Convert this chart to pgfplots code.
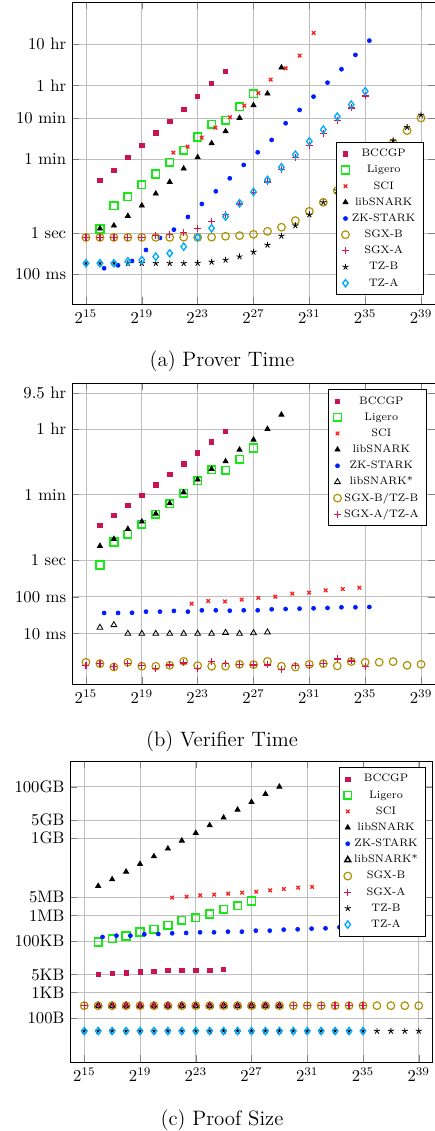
\documentclass[border=0pt]{standalone}
\usepackage{pgfplots}
\pgfplotsset{compat=1.18}

\definecolor{cBCCGP}{RGB}{200,20,80}
\definecolor{cLigero}{RGB}{20,235,20}
\definecolor{cSCI}{RGB}{255,25,25}
\definecolor{cZK}{RGB}{0,30,255}
\definecolor{cSGXB}{RGB}{175,145,0}
\definecolor{cSGXA}{RGB}{215,20,80}
\definecolor{cTZA}{RGB}{0,170,255}

\pgfplotsset{
  only mark legend/.style={legend image code/.code={%
    \draw[mark repeat=2,mark phase=2,##1] plot coordinates {(0pt,0pt)(4pt,0pt)(8pt,0pt)};}},
  bench/.style={
    scale only axis, width=217.8pt, height=181.2pt,
    xmin=14, xmax=40,
    xtick={15,19,...,39},
    xticklabel={$2^{\pgfmathprintnumber{\tick}}$},
    grid=major, yminorticks=false,
    tick style={black!50},
    legend cell align=center,
    legend style={font=\fontsize{6.5}{7.5}\selectfont, draw=black,
      row sep=0pt, nodes={inner sep=1.6pt, text height=5pt, text depth=1.5pt}},
  },
  bccgp/.style={only marks, mark=square*, mark size=1.3pt, color=cBCCGP, mark options={draw=cBCCGP, fill=cBCCGP}},
  ligero/.style={only marks, mark=square, mark size=2.3pt, color=cLigero, mark options={draw=cLigero, line width=0.95pt}},
  sci/.style={only marks, mark=x, mark size=1.5pt, color=cSCI, mark options={draw=cSCI, line width=0.75pt}},
  libsnark/.style={only marks, mark=triangle*, mark size=1.8pt, color=black},
  zk/.style={only marks, mark=*, mark size=1.2pt, color=cZK, mark options={draw=cZK, fill=cZK}},
  snarkstar/.style={only marks, mark=triangle, mark size=2pt, color=black, mark options={line width=0.5pt}},
  sgxb/.style={only marks, mark=o, mark size=2.3pt, color=cSGXB, mark options={draw=cSGXB, line width=0.7pt}},
  sgxa/.style={only marks, mark=+, mark size=2.1pt, color=cSGXA, mark options={draw=cSGXA, line width=0.75pt}},
  tzb/.style={only marks, mark=star, mark size=1.9pt, color=black, mark options={line width=0.5pt}},
  tza/.style={only marks, mark=diamond, mark size=2.2pt, color=cTZA, mark options={draw=cTZA, line width=0.8pt}},
}

\begin{document}
\begin{tikzpicture}
\useasboundingbox (0,0) rectangle (260.4pt,-678.6pt);

% (a) prover time, seconds
\begin{axis}[ymode=log, bench, at={(43.2pt,-1.2pt)}, anchor=north west,
  ymin=0.0192, ymax=377000,
  ytick={0.1,1,60,600,3600,36000},
  yticklabels={100 ms,1 sec,1 min,10 min,1 hr,10 hr},
  legend style={at={(0.968,0.03)}, anchor=south east}]
\addplot[bccgp] coordinates {(16,18.6) (17,32) (18,67) (19,128) (20,260) (21,497) (22,980) (23,1990) (24,4100) (25,8000)};
\addlegendentry{BCCGP}
\addplot[ligero] coordinates {(16,1.24) (17,4.5) (18,7.5) (19,14.7) (20,26.5) (21,50.7) (22,98.8) (23,207) (24,420) (25,525) (26,1120) (27,2310)};
\addlegendentry{Ligero}
\addplot[sci] coordinates {(21.26,86.9) (22.28,121) (23.29,200) (24.27,349) (25.32,620) (26.34,1186) (27.35,2400) (28.23,5030) (29.3,9460) (30.3,19140) (31.31,67500)};
\addlegendentry{SCI}
\addplot[libsnark] coordinates {(16,1.27) (17,1.5) (18,2.56) (19,4.56) (20,8.88) (21,17) (22,35.7) (23,67) (24,146) (25,284) (26,597) (27,1208) (28,2310) (29,9820)};
\addlegendentry{libSNARK}
\addplot[zk] coordinates {(16.3,0.14) (17.3,0.165) (18.3,0.21) (19.3,0.387) (20.3,0.755) (21.3,1.2) (22.3,2.43) (23.3,5.0) (24.3,10.1) (25.3,20.8) (26.3,43.8) (27.3,88.5) (28.3,176) (29.3,444) (30.3,932) (31.3,1955) (32.3,4260) (33.3,8950) (34.3,19900) (35.3,44000)};
\addlegendentry{ZK-STARK}
\addplot[sgxb] coordinates {(15,0.78) (16,0.78) (17,0.78) (18,0.78) (19,0.78) (20,0.78) (21,0.78) (22,0.79) (23,0.78) (24,0.79) (25,0.83) (26,0.86) (27,0.925) (28,1.09) (29,1.37) (30,1.98) (31,3.32) (32,5.49) (33,10.5) (34,20.4) (35,39.8) (36,76.7) (37,148.6) (38,295) (39,597)};
\addlegendentry{SGX-B}
\addplot[sgxa] coordinates {(15,0.78) (16,0.78) (17,0.78) (18,0.78) (19,0.78) (20,0.86) (21,0.925) (22,1.03) (23,1.29) (24,1.87) (25,2.76) (26,5.0) (27,9.4) (28,17) (29,34.4) (30,65.8) (31,131) (32,255) (33,515) (34,1042) (35,2030)};
\addlegendentry{SGX-A}
\addplot[tzb] coordinates {(15,0.185) (16,0.185) (17,0.185) (18,0.185) (19,0.185) (20,0.185) (21,0.185) (22,0.185) (23,0.187) (24,0.199) (25,0.222) (26,0.267) (27,0.346) (28,0.511) (29,0.844) (30,1.5) (31,2.76) (32,5.49) (33,10.5) (34,20) (35,39) (36,78) (37,169) (38,356) (39,707)};
\addlegendentry{TZ-B}
\addplot[tza] coordinates {(15,0.185) (16,0.185) (17,0.185) (18,0.206) (19,0.222) (20,0.267) (21,0.322) (22,0.466) (23,0.78) (24,1.29) (25,2.47) (26,5.19) (27,9.75) (28,19) (29,38.5) (30,77.8) (31,163) (32,312) (33,643) (34,1253) (35,2630)};
\addlegendentry{TZ-A}
\end{axis}
\node[anchor=base, font=\fontsize{12.5}{15}\selectfont] at (133.2pt,-220.2pt) {(a) Prover Time};

% (b) verifier time, seconds
\begin{axis}[ymode=log, bench, at={(43.2pt,-230pt)}, anchor=north west, height=180.6pt,
  ymin=0.00042, ymax=62700,
  ytick={0.01,0.1,1,60,3600,34200},
  yticklabels={10 ms,100 ms,1 sec,1 min,1 hr,9.5 hr},
  legend style={at={(0.977,0.98)}, anchor=north east}]
\addplot[bccgp] coordinates {(16,8.9) (17,16) (18,30.5) (19,58) (20,111) (21,212) (22,412) (23,820) (24,1633) (25,3180)};
\addlegendentry{BCCGP}
\addplot[ligero] coordinates {(16,0.73) (17,3.08) (18,4.98) (19,9.3) (20,17.4) (21,33.8) (22,64.5) (23,142) (24,283) (25,272) (26,541) (27,1099)};
\addlegendentry{Ligero}
\addplot[sci] coordinates {(22.57,0.065) (23.76,0.077) (24.96,0.075) (26.15,0.084) (27.35,0.093) (28.56,0.101) (29.78,0.122) (30.98,0.13) (32.17,0.15) (33.39,0.163) (34.58,0.177)};
\addlegendentry{SCI}
\addplot[libsnark] coordinates {(16,2.4) (17,3.72) (18,6.95) (19,11) (20,18.1) (21,34.5) (22,68.7) (23,152) (24,296) (25,478) (26,989) (27,1849) (28,3606) (29,8830)};
\addlegendentry{libSNARK}
\addplot[zk] coordinates {(16.3,0.0364) (17.3,0.0364) (18.3,0.0368) (19.3,0.0395) (20.3,0.0395) (21.3,0.0414) (22.3,0.0395) (23.3,0.043) (24.3,0.043) (25.3,0.042) (26.3,0.043) (27.3,0.043) (28.3,0.0458) (29.3,0.0467) (30.3,0.0477) (31.3,0.0487) (32.3,0.0498) (33.3,0.0519) (34.3,0.0519) (35.3,0.053)};
\addlegendentry{ZK-STARK}
\addplot[snarkstar] coordinates {(16,0.0146) (17,0.0172) (18,0.0100) (19,0.0100) (20,0.0100) (21,0.0100) (22,0.0100) (23,0.0100) (24,0.0100) (25,0.0106) (26,0.0100) (27,0.0104) (28,0.0109)};
\addlegendentry{libSNARK*}
\addplot[sgxb] coordinates {(15,0.00167) (16,0.00153) (17,0.00124) (18,0.00167) (19,0.0013) (20,0.0013) (21,0.00138) (22,0.00177) (23,0.00135) (24,0.0013) (25,0.0013) (26,0.00147) (27,0.00144) (28,0.00177) (29,0.0013) (30,0.00124) (31,0.00147) (32,0.00153) (33,0.00133) (34,0.00174) (35,0.00167) (36,0.00167) (37,0.00174) (38,0.00138) (39,0.00147)};
\addlegendentry{SGX-B/TZ-B}
\addplot[sgxa] coordinates {(15,0.00135) (16,0.00153) (17,0.0013) (18,0.00153) (19,0.00135) (20,0.00112) (21,0.00141) (22,0.0016) (23,0.00112) (24,0.00177) (25,0.00153) (26,0.00147) (27,0.00141) (28,0.00141) (29,0.00108) (30,0.00135) (31,0.00135) (32,0.00153) (33,0.00205) (34,0.00181) (35,0.0013)};
\addlegendentry{SGX-A/TZ-A}
\end{axis}
\node[anchor=base, font=\fontsize{12.5}{15}\selectfont] at (133.2pt,-447.6pt) {(b) Verifier Time};

% (c) proof size, bytes
\begin{axis}[ymode=log, bench, at={(42.2pt,-456.6pt)}, anchor=north west, width=217.4pt, height=180.6pt,
  ymin=2, ymax=1e12,
  ytick={100,1000,5000,1e5,1e6,5e6,1e9,5e9,1e11},
  yticklabels={100B,1KB,5KB,100KB,1MB,5MB,1GB,5GB,100GB},
  legend style={at={(0.981,0.979)}, anchor=north east}]
\addplot[bccgp] coordinates {(16,5130) (17,5440) (18,5780) (19,6320) (20,6700) (21,7110) (22,7110) (23,7330) (24,7110) (25,7780)};
\addlegendentry{BCCGP}
\addplot[ligero] coordinates {(16,92500) (17,124700) (18,158000) (19,226000) (20,287000) (21,411000) (22,643000) (23,816000) (24,1130000) (25,1720000) (26,2390000) (27,3630000)};
\addlegendentry{Ligero}
\addplot[sci] coordinates {(21.31,4.89e6) (22.34,5.35e6) (23.32,6.03e6) (24.32,6.4e6) (25.33,7e6) (26.33,7.65e6) (27.34,8.36e6) (28.34,9.42e6) (29.32,1.06e7) (30.35,1.2e7) (31.35,1.27e7)};
\addlegendentry{SCI}
\addplot[libsnark] coordinates {(16,1.39e7) (17,2.52e7) (18,5e7) (19,9.9e7) (20,1.97e8) (21,3.92e8) (22,8.01e8) (23,1.59e9) (24,3.16e9) (25,6.28e9) (26,1.28e10) (27,2.55e10) (28,5.2e10) (29,1e11)};
\addlegendentry{libSNARK}
\addplot[zk] coordinates {(16.31,145000) (17.31,163000) (18.31,163000) (19.31,184000) (20.31,189000) (21.31,201000) (22.31,207000) (23.31,220000) (24.31,220000) (25.31,233000) (26.31,233000) (27.31,255000) (28.31,255000) (29.31,279000) (30.31,287000) (31.31,305000) (32.31,314000) (33.31,344000) (34.31,365000) (35.31,387000)};
\addlegendentry{ZK-STARK}
\addplot[snarkstar, mark options={line width=0.9pt}] coordinates {(16,310) (17,310) (18,310) (19,310) (20,310) (21,310) (22,310) (23,310) (24,310) (25,310) (26,310) (27,310) (28,310) (29,310)};
\addlegendentry{libSNARK*}
\addplot[sgxb] coordinates {(15,310) (16,310) (17,310) (18,310) (19,310) (20,310) (21,310) (22,310) (23,310) (24,310) (25,310) (26,310) (27,310) (28,310) (29,310) (30,310) (31,310) (32,310) (33,310) (34,310) (35,310) (36,310) (37,310) (38,310) (39,310)};
\addlegendentry{SGX-B}
\addplot[sgxa] coordinates {(15,310) (16,310) (17,310) (18,310) (19,310) (20,310) (21,310) (22,310) (23,310) (24,310) (25,310) (26,310) (27,310) (28,310) (29,310) (30,310) (31,310) (32,310) (33,310) (34,310) (35,310)};
\addlegendentry{SGX-A}
\addplot[tzb] coordinates {(15,32) (16,32) (17,32) (18,32) (19,32) (20,32) (21,32) (22,32) (23,32) (24,32) (25,32) (26,32) (27,32) (28,32) (29,32) (30,32) (31,32) (32,32) (33,32) (34,32) (35,32) (36,32) (37,32) (38,32) (39,32)};
\addlegendentry{TZ-B}
\addplot[tza] coordinates {(15,32) (16,32) (17,32) (18,32) (19,32) (20,32) (21,32) (22,32) (23,32) (24,32) (25,32) (26,32) (27,32) (28,32) (29,32) (30,32) (31,32) (32,32) (33,32) (34,32) (35,32)};
\addlegendentry{TZ-A}
\end{axis}
\node[anchor=base, font=\fontsize{12.5}{15}\selectfont] at (133.2pt,-675pt) {(c) Proof Size};
\end{tikzpicture}
\end{document}
